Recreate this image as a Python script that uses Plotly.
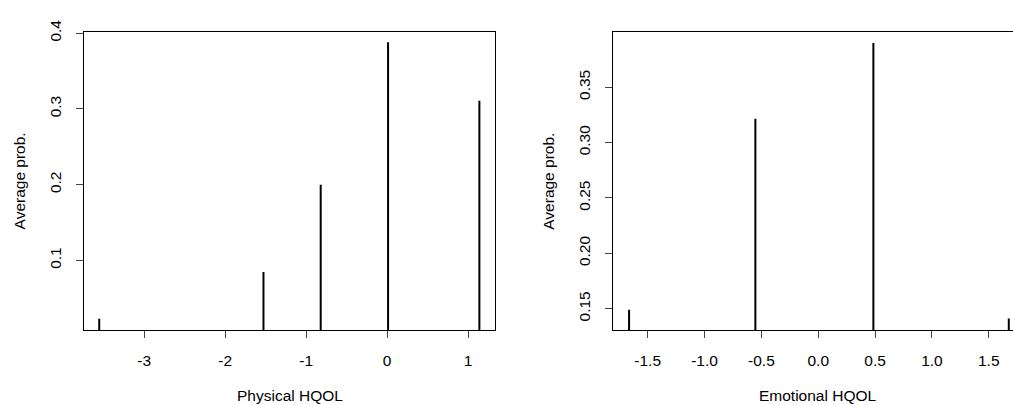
import plotly.graph_objects as go

# Physical HQOL panel
phys_x = [-3.556, -1.527, -0.82, 0.012, 1.14]
phys_p = [0.0229, 0.0847, 0.200, 0.388, 0.3106]
phys_ticks = [-3, -2, -1, 0, 1]
phys_yticks = [0.1, 0.2, 0.3, 0.4]

# Emotional HQOL panel
emo_x = [-1.664, -0.553, 0.485, 1.676]
emo_p = [0.149, 0.3216, 0.390, 0.141]
emo_ticks = [-1.5, -1.0, -0.5, 0.0, 0.5, 1.0, 1.5]
emo_yticks = [0.15, 0.20, 0.25, 0.30, 0.35]

W, H = 1013, 405
FONT = "Liberation Sans, Arial, sans-serif"
FS = 15.5


def stems(xs, ys):
    sx, sy = [], []
    for x, y in zip(xs, ys):
        sx += [x, x, None]
        sy += [0, y, None]
    return sx, sy


fig = go.Figure()
px_, py_ = stems(phys_x, phys_p)
fig.add_trace(go.Scatter(x=px_, y=py_, mode="lines", line=dict(color="black", width=2),
                         xaxis="x", yaxis="y", showlegend=False, hoverinfo="skip"))
ex_, ey_ = stems(emo_x, emo_p)
fig.add_trace(go.Scatter(x=ex_, y=ey_, mode="lines", line=dict(color="black", width=2),
                         xaxis="x2", yaxis="y2", showlegend=False, hoverinfo="skip"))

ydom = [1 - 328 / H, 1 - 20 / H]
axis_common = dict(showgrid=False, zeroline=False, ticks="outside", ticklen=7,
                   tickcolor="#444", tickwidth=1, showline=True, linecolor="black",
                   linewidth=1, tickfont=dict(family=FONT, size=FS, color="black"),
                   ticklabelstandoff=9)

fig.update_layout(
    width=W, height=H, margin=dict(l=0, r=0, t=0, b=0),
    paper_bgcolor="white", plot_bgcolor="white",
    xaxis=dict(domain=[84 / W, 495 / W], range=[-3.744, 1.333], tickvals=phys_ticks,
               ticktext=[str(t) for t in phys_ticks], mirror=True, anchor="y", **axis_common),
    yaxis=dict(domain=ydom, range=[0.0075, 0.401], tickvals=phys_yticks,
               ticktext=["0.1", "0.2", "0.3", "0.4"], tickangle=-90, mirror=True,
               anchor="x", **axis_common),
    xaxis2=dict(domain=[613.3 / W, 1.0], range=[-1.8026, 1.713], tickvals=emo_ticks,
                ticktext=["%.1f" % t for t in emo_ticks], mirror=True, anchor="y2", **axis_common),
    yaxis2=dict(domain=ydom, range=[0.1303, 0.3995], tickvals=emo_yticks,
                ticktext=["%.2f" % t for t in emo_yticks], tickangle=-90, mirror=False,
                anchor="x2", **axis_common),
)

titles = [
    dict(text="Physical HQOL", x=289.5 / W, y=1 - 395 / H, textangle=0),
    dict(text="Average prob.", x=19 / W, y=1 - 174 / H, textangle=-90),
    dict(text="Emotional HQOL", x=818 / W, y=1 - 395 / H, textangle=0),
    dict(text="Average prob.", x=548.3 / W, y=1 - 174 / H, textangle=-90),
]
for t in titles:
    fig.add_annotation(xref="paper", yref="paper", x=t["x"], y=t["y"], text=t["text"],
                       textangle=t["textangle"], showarrow=False, xanchor="center",
                       yanchor="middle", font=dict(family=FONT, size=FS, color="black"))

fig.write_html("out.html", config={"displayModeBar": False},
               post_script="document.body.style.margin='0';document.body.style.overflow='hidden';")
